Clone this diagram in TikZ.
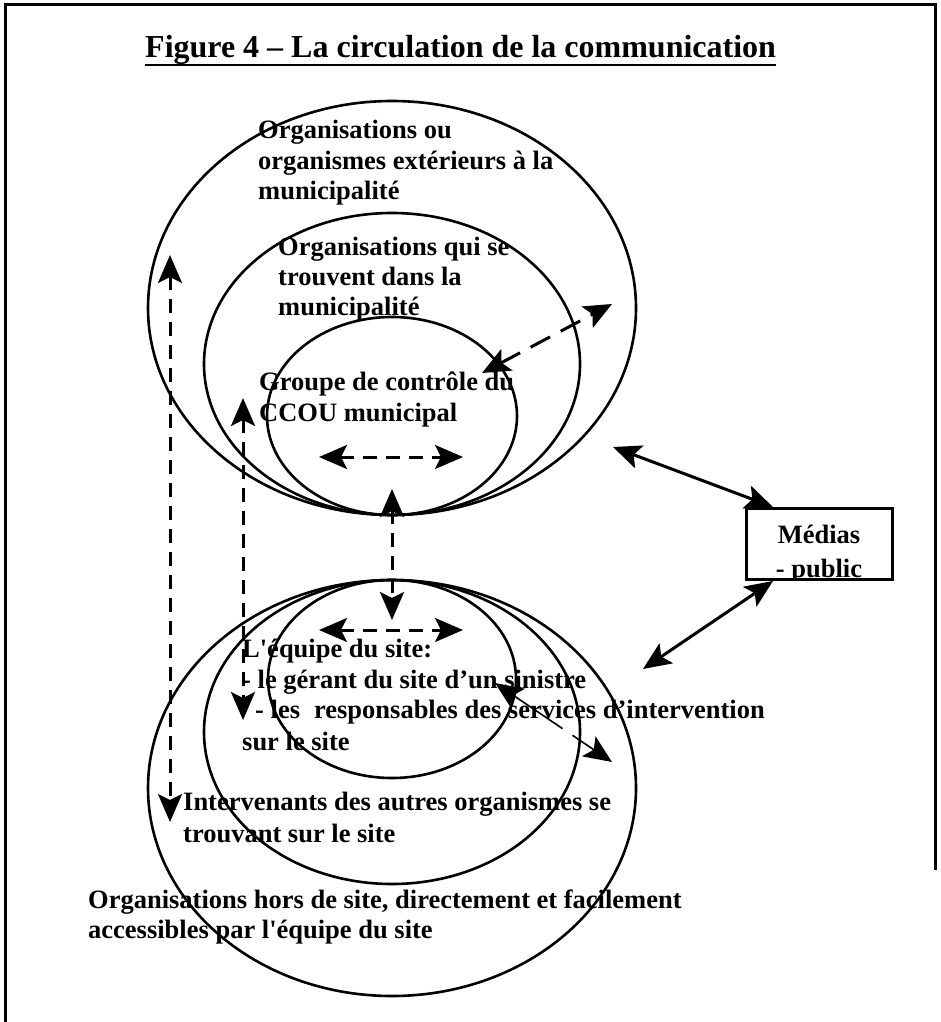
\documentclass[tikz,border=0pt]{standalone}
\usepackage{fontspec}
\setmainfont{Liberation Serif}
\usetikzlibrary{arrows.meta,shapes.geometric}
\begin{document}
\begin{tikzpicture}[x=1pt,y=-1pt,
  ring/.style={ellipse,draw,line width=2.6pt,inner sep=0pt,outer sep=0pt},
  txt/.style={anchor=base west,inner sep=0pt,font=\fontsize{26.5}{30}\selectfont\bfseries},
  tip/.tip={Stealth[length=28pt,width=24pt,inset=6pt]},
  flow/.style={line width=3pt,dash pattern=on 14pt off 9pt,tip-tip},
  thinflow/.style={line width=1.6pt,dash pattern=on 60pt off 12pt,tip-tip},
  link/.style={line width=3pt,tip-tip}]

\useasboundingbox (0,0) rectangle (940,1022);

% page frame
\draw[line width=3pt] (5,1022) -- (5,5) -- (935,5) -- (935,870);

% title
\node[anchor=base west,inner sep=0pt,font=\fontsize{32}{36}\selectfont\bfseries] (title) at (145,58)
  {Figure 4 – La circulation de la communication};
\draw[line width=2.8pt] ([yshift=-7pt]title.base west) -- ([yshift=-7pt]title.base east);

% upper nest of organisations
\node[ring,minimum width=488pt,minimum height=414pt] (extorg) at (392,308) {};
\node[ring,minimum width=376pt,minimum height=302pt] (munorg) at (392,364) {};
\node[ring,minimum width=250pt,minimum height=198pt] (ctrl) at (392,416) {};

% lower nest around the site
\node[ring,minimum width=488pt,minimum height=416pt] (offsite) at (392,788) {};
\node[ring,minimum width=376pt,minimum height=304pt] (onsite) at (392,732) {};
\node[ring,minimum width=248pt,minimum height=198pt] (team) at (392,679) {};

% labels
\node[txt] (ext1) at (258,139) {Organisations ou};
\node[txt] (ext2) at (258,169) {organismes extérieurs à la};
\node[txt] (ext3) at (258,199) {municipalité};

\node[txt] (mun1) at (278,255) {Organisations qui se};
\node[txt] (mun2) at (278,285) {trouvent dans la};
\node[txt] (mun3) at (278,315) {municipalité};

\node[txt] (ctrl1) at (259,390) {Groupe de contrôle du};
\node[txt] (ctrl2) at (259,421) {CCOU municipal};

\node[txt] (team1) at (242,657) {L\textquotesingle équipe du site:};
\node[txt] (team2) at (242,688) {- le gérant du site d’un sinistre};
\node[txt] (team3) at (255,718) {- les\hspace{14pt}responsables des services d’intervention};
\node[txt] (team4) at (242,750) {sur le site};

\node[txt] (on1) at (183,810) {Intervenants des autres organismes se};
\node[txt] (on2) at (183,842) {trouvant sur le site};

\node[txt] (off1) at (88,908) {Organisations hors de site, directement et facilement};
\node[txt] (off2) at (88,938) {accessibles par l\textquotesingle équipe du site};

% media box
\node[draw,line width=3pt,minimum width=146pt,minimum height=71pt,inner sep=0pt] (media) at (819,543.5) {};
\begin{scope}
  \clip (media.south west) rectangle (media.north east);
  \node[anchor=base,inner sep=0pt,font=\fontsize{26.5}{30}\selectfont\bfseries] (media1) at (819,543) {Médias};
  \node[anchor=base,inner sep=0pt,font=\fontsize{26.5}{30}\selectfont\bfseries] (media2) at (819,577) {- public};
\end{scope}

% connector end points
\coordinate (a1) at (170,255);
\coordinate (a2) at (170,822);
\coordinate (b1) at (243,398);
\coordinate (b2) at (243,720);
\coordinate (c1) at (392,489);
\coordinate (c2) at (392,620);
\coordinate (d1) at (319,457);
\coordinate (d2) at (463,457);
\coordinate (e1) at (319,630);
\coordinate (e2) at (463,630);
\coordinate (f1) at (482,373);
\coordinate (f2) at (612,304);
\coordinate (g1) at (495,683);
\coordinate (g2) at (612,762);
\coordinate (h1) at (613,447);
\coordinate (h2) at (773,507);
\coordinate (k1) at (643,669);
\coordinate (k2) at (773,581);

% exchanges
\draw[flow] (a1) -- (a2);
\draw[flow] (b1) -- (b2);
\draw[flow] (c1) -- (c2);
\draw[flow] (d1) -- (d2);
\draw[flow] (e1) -- (e2);
\draw[flow,dash pattern=on 22pt off 12pt] (f1) -- (f2);
\draw[thinflow] (g1) -- (g2);
\draw[link] (h1) -- (h2);
\draw[link] (k1) -- (k2);
\end{tikzpicture}
\end{document}
